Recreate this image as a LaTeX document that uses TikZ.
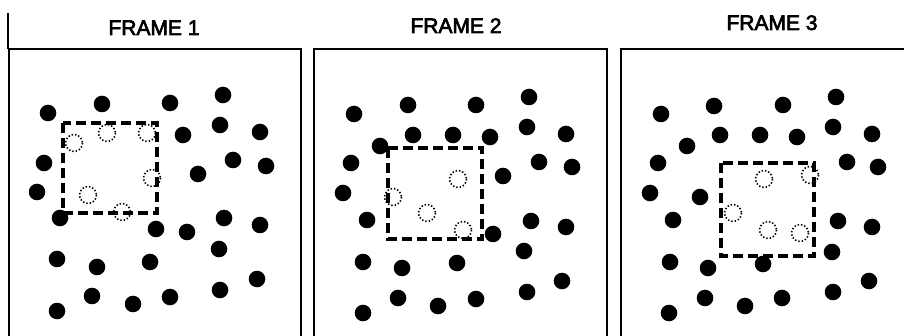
\documentclass[tikz,border=0pt]{standalone}
\usepackage{fontspec}
\setmainfont{Liberation Sans}
\newfontfamily\titlefont[FakeBold=3]{Liberation Sans}
\begin{document}
\begin{tikzpicture}[x=1pt,y=-1pt,
  framebox/.style={draw=black,line width=2pt},
  dot/.style={fill=black},
  ghost/.style={draw=black,line width=1.6pt,dash pattern=on 1.4pt off 2pt},
  window/.style={draw=black,line width=3.8pt,dash pattern=on 10pt off 5pt},
  title/.style={anchor=base,font=\titlefont\fontsize{21}{24}\selectfont,inner sep=0pt}]
\useasboundingbox (0,0) rectangle (904,336);
\begin{scope}
\clip (0,0) rectangle (904,336);
% frames
\draw[line width=1.6pt] (8,13) -- (8,49);
\draw[framebox] (8.5,345) -- (8.5,49) -- (301,49) -- (301,345);
\draw[framebox] (314,345) -- (314,49) -- (607,49) -- (607,345);
\draw[framebox] (621,345) -- (621,49) -- (915,49);
% titles
\node[title] (t1) at (154,35) {FRAME 1};
\node[title] (t2) at (456,33) {FRAME 2};
\node[title] (t3) at (772,30) {FRAME 3};
% frame 1 dots
\foreach \p in {(48,113),(102,104),(170,103),(223,95),(220,125),(183,135),(260,132),
  (44,163),(233,160),(266,166),(198,174),(37,192),(60,218),(156,229),(187,232),
  (224,218),(260,225),(219,249),(57,259),(97,267),(150,262),(257,279),(220,290),
  (92,296),(133,304),(170,297),(57,311)}
  \fill[dot] \p circle (8.3);
\foreach \p in {(107,133),(147,133),(74,143),(152,178),(88,195),(122,212)}
  \draw[ghost] \p circle (8.5);
\draw[window] (63,123) rectangle (157,213);
% frame 2 dots
\foreach \p in {(354,114),(408,105),(476,105),(529,97),(527,127),(566,134),(413,135),
  (453,135),(490,137),(380,146),(351,163),(539,162),(572,167),(503,176),(343,193),
  (367,220),(493,234),(531,221),(566,227),(524,251),(363,262),(402,268),(457,263),
  (562,281),(527,292),(398,298),(438,306),(476,299),(363,313)}
  \fill[dot] \p circle (8.3);
\foreach \p in {(458,179),(393,197),(427,213),(463,230)}
  \draw[ghost] \p circle (8.5);
\draw[window] (388,148) rectangle (482,239);
% frame 3 dots
\foreach \p in {(661,114),(714,106),(783,105),(836,97),(833,127),(872,134),(720,135),
  (760,135),(797,137),(687,146),(658,163),(847,162),(878,167),(700,197),(650,193),
  (673,220),(838,221),(872,227),(832,252),(670,262),(708,268),(763,264),(869,281),
  (833,292),(705,298),(745,306),(782,298),(669,313)}
  \fill[dot] \p circle (8.3);
\foreach \p in {(764,179),(810,175),(733,213),(768,230),(800,233)}
  \draw[ghost] \p circle (8.5);
\draw[window] (721,163) rectangle (814,256);
\end{scope}
\end{tikzpicture}
\end{document}
